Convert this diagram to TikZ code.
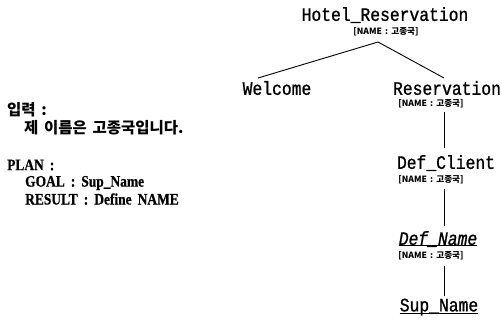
\documentclass[tikz,border=0pt]{standalone}
\usepackage{fontspec}
\setmainfont{Liberation Serif}
\newfontfamily\cjk{Noto Sans CJK KR}
\newfontfamily\kfont[WordSpace=1.6]{Noto Sans CJK KR}
\newfontfamily\lserif[FakeStretch=0.84,FakeBold=0.6,WordSpace=1.8,UprightFont={* Bold}]{Liberation Serif}
\newfontfamily\monof[FakeStretch=0.86,FakeBold=1]{Liberation Mono}
\begin{document}
\begin{tikzpicture}[x=1pt,y=-1pt,
  tnode/.style={inner sep=0pt,font=\monof\fontsize{19}{19}\selectfont},
  lab/.style={inner sep=0pt,font=\cjk\bfseries\fontsize{8.6}{8}\selectfont},
  ltext/.style={inner sep=0pt,anchor=west,font=\lserif\fontsize{16}{16}\selectfont},
  ktext/.style={inner sep=0pt,anchor=west,font=\kfont\bfseries\fontsize{15.5}{16}\selectfont},
  edge/.style={line width=0.9pt}]
\useasboundingbox (0,0) rectangle (502,322);
% tree
\node[tnode] (hotel) at (385,15) {Hotel\_Reservation};
\node[lab] (hotelL) at (386,32) {[NAME : 고종국]};
\node[tnode] (welcome) at (277,88) {Welcome};
\node[tnode] (res) at (447,88) {Reservation};
\node[lab] (resL) at (431,104) {[NAME : 고종국]};
\node[tnode] (defc) at (446,163) {Def\_Client};
\node[lab] (defcL) at (431,180) {[NAME : 고종국]};
\node[tnode,font=\monof\itshape\fontsize{19}{19}\selectfont] (defn) at (438,239) {Def\_Name};
\node[lab] (defnL) at (431,256) {[NAME : 고종국]};
\node[tnode] (sup) at (439,307) {Sup\_Name};
\draw[edge] ([yshift=2pt]defn.south west) -- ([yshift=2pt]defn.south east);
\draw[edge] ([yshift=2pt]sup.south west) -- ([yshift=2pt]sup.south east);
\coordinate (top) at (378,42);
\draw[edge] (top) -- (258,78);
\draw[edge] (top) -- (444,78);
\draw[edge] (444,112) -- (444,148);
\draw[edge] (444,189) -- (444,226);
\draw[edge] (444,266) -- (444,296);
% left text
\node[ktext] (in) at (7,110) {입력 :};
\node[ktext] (sent) at (24,128) {제 이름은 고종국입니다.};
\node[ltext] (plan) at (7,165) {PLAN :};
\node[ltext] (goal) at (25,183) {GOAL : Sup\_Name};
\node[ltext] (result) at (25,199) {RESULT : Define NAME};
\end{tikzpicture}
\end{document}
